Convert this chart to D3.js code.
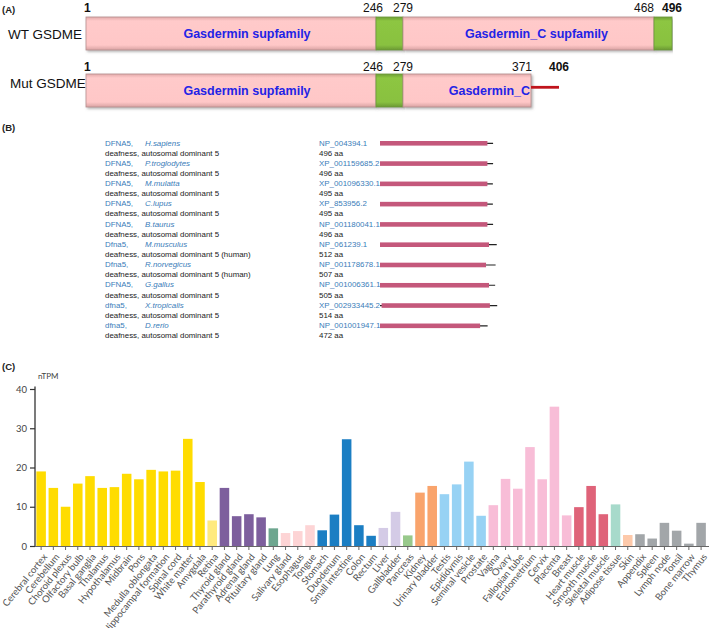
<!DOCTYPE html>
<html>
<head>
<meta charset="utf-8">
<script src="https://cdn.jsdelivr.net/npm/d3@7/dist/d3.min.js"></script>
<style>
  html, body { margin: 0; padding: 0; background: #fff; }
  svg { display: block; }
</style>
</head>
<body>
<svg id="fig" width="709" height="628"></svg>
<script>
// ---------------- DATA ----------------
// Panel A: GSDME domain schematic (amino-acid positions)
const wtSegStart = [1, 246, 279, 468];
const wtSegEnd   = [246, 279, 468, 496];
const wtSegType  = ["domain", "linker", "domain", "linker"];
const wtSegLabel = ["Gasdermin supfamily", "", "Gasdermin_C supfamily", ""];
const wtTicks    = [1, 246, 279, 468, 496];

const mutSegStart = [1, 246, 279];
const mutSegEnd   = [246, 279, 371];
const mutSegType  = ["domain", "linker", "domain"];
const mutSegLabel = ["Gasdermin supfamily", "", "Gasdermin_C"];
const mutFrameshift = [371, 406];
const mutTicks    = [1, 246, 279, 371, 406];
const boldTicks   = [1, 496, 406];

// Panel B: HomoloGene entries
const geneSymbols = ["DFNA5", "DFNA5", "DFNA5", "DFNA5", "DFNA5", "Dfna5", "Dfna5", "DFNA5", "dfna5", "dfna5"];
const species     = ["H.sapiens", "P.troglodytes", "M.mulatta", "C.lupus", "B.taurus", "M.musculus", "R.norvegicus", "G.gallus", "X.tropicalis", "D.rerio"];
const descriptions = ["deafness, autosomal dominant 5", "deafness, autosomal dominant 5", "deafness, autosomal dominant 5",
  "deafness, autosomal dominant 5", "deafness, autosomal dominant 5", "deafness, autosomal dominant 5 (human)",
  "deafness, autosomal dominant 5 (human)", "deafness, autosomal dominant 5", "deafness, autosomal dominant 5",
  "deafness, autosomal dominant 5"];
const accessions  = ["NP_004394.1", "XP_001159685.2", "XP_001096330.1", "XP_853956.2", "NP_001180041.1",
  "NP_061239.1", "NP_001178678.1", "NP_001006361.1", "XP_002933445.2", "NP_001001947.1"];
const proteinLength = [496, 496, 495, 495, 496, 512, 507, 505, 514, 472];
const domainStart = [0, 0, 0, 0, 0, 0, 0, 0, 7, 0];
const domainEnd   = [471, 471, 471, 471, 471, 478, 465, 478, 482, 439];

// Panel C: tissue RNA expression (nTPM)
const tissues = ["Cerebral cortex", "Cerebellum", "Choroid plexus", "Olfactory bulb", "Basal ganglia", "Thalamus",
  "Hypothalamus", "Midbrain", "Pons", "Medulla oblongata", "Hippocampal formation", "Spinal cord", "White matter",
  "Amygdala", "Retina", "Thyroid gland", "Parathyroid gland", "Adrenal gland", "Pituitary gland", "Lung",
  "Salivary gland", "Esophagus", "Tongue", "Stomach", "Duodenum", "Small intestine", "Colon", "Rectum", "Liver",
  "Gallbladder", "Pancreas", "Kidney", "Urinary bladder", "Testis", "Epididymis", "Seminal vesicle", "Prostate",
  "Vagina", "Ovary", "Fallopian tube", "Endometrium", "Cervix", "Placenta", "Breast", "Heart muscle",
  "Smooth muscle", "Skeletal muscle", "Adipose tissue", "Skin", "Appendix", "Spleen", "Lymph node", "Tonsil",
  "Bone marrow", "Thymus"];
const nTPM = [19.0, 14.8, 10.0, 15.9, 17.8, 14.8, 15.0, 18.4, 17.0, 19.4, 19.0, 19.2, 27.3, 16.3, 6.5,
  14.8, 7.6, 8.1, 7.3, 4.5, 3.3, 3.8, 5.3, 4.0, 8.0, 27.2, 5.3, 2.6, 4.6, 8.7, 2.7, 13.6, 15.3,
  13.2, 15.7, 21.5, 7.7, 10.4, 17.1, 14.6, 25.2, 17.0, 35.5, 7.8, 9.9, 15.3, 8.1, 10.6, 2.8, 3.0,
  1.9, 5.9, 3.9, 0.6, 5.9];
const tissueGroup = ["brain", "brain", "brain", "brain", "brain", "brain", "brain", "brain", "brain", "brain",
  "brain", "brain", "brain", "brain", "eye", "endocrine", "endocrine", "endocrine", "endocrine", "lung",
  "oral", "oral", "oral", "gi", "gi", "gi", "gi", "gi", "liver", "liver", "pancreas", "kidney", "kidney",
  "male", "male", "male", "male", "female", "female", "female", "female", "female", "female", "female",
  "muscle", "muscle", "muscle", "adipose", "skin", "immune", "immune", "immune", "immune", "immune", "immune"];
const yTicks = [0, 10, 20, 30, 40];

// Styles (kept apart from the data)
const groupNames  = ["brain", "eye", "endocrine", "lung", "oral", "gi", "liver", "pancreas", "kidney", "male", "female", "muscle", "adipose", "skin", "immune"];
const groupColors = ["#FFDC00", "#FFEA7E", "#7D5F9D", "#6DA68F", "#FDD4D5", "#1B7EC3", "#D4CBE6", "#98C98B", "#F9A46C", "#97D2F4", "#F8BDD7", "#DF6379", "#A7DACB", "#FDC9AA", "#A2A6A9"];

// ---------------- DRAW ----------------
const svg = d3.select("#fig");
const AR = "Arial, 'Liberation Sans', sans-serif";

const defs = svg.append("defs");
function vgrad(id, stops) {
  const g = defs.append("linearGradient").attr("id", id).attr("x1", 0).attr("y1", 0).attr("x2", 0).attr("y2", 1);
  stops.forEach(s => g.append("stop").attr("offset", s[0]).attr("stop-color", s[1]));
}
vgrad("pinkG", [[0, "#E3AAAA"], [0.12, "#FFCACA"], [0.85, "#FFC7C7"], [1, "#D9A2A2"]]);
vgrad("greenG", [[0, "#6E9E36"], [0.12, "#8DC642"], [0.85, "#89C140"], [1, "#6A9833"]]);
const sh = defs.append("filter").attr("id", "shadow").attr("x", "-5%").attr("y", "-20%").attr("width", "110%").attr("height", "150%");
sh.append("feDropShadow").attr("dx", 1.5).attr("dy", 1.5).attr("stdDeviation", 1.2).attr("flood-color", "#777").attr("flood-opacity", 0.55);

// Panel labels
[["(A)", 13], ["(B)", 131], ["(C)", 370]].forEach(p => {
  svg.append("text").attr("x", 2).attr("y", p[1]).text(p[0])
    .attr("font-family", AR).attr("font-weight", "bold").attr("font-size", 9.5).attr("fill", "#222");
});

// ---- Panel A ----
const xA = d3.scaleLinear().domain([1, 246, 279, 371, 406, 468, 496]).range([86, 376, 403, 531, 559, 654, 672]);
const tickAnchor = { 1: ["start", -2], 246: ["end", 7], 279: ["middle", 0], 371: ["end", 1], 406: ["middle", 0], 468: ["end", 0], 496: ["middle", 0] };

function drawProtein(name, top, h, segS, segE, segT, segL, ticks, nameBase, tickBase) {
  const g = svg.append("g");
  g.append("text").attr("x", name === "WT GSDME" ? 8 : 10).attr("y", nameBase).text(name)
    .attr("font-family", AR).attr("font-size", 13.5).attr("fill", "#111");
  const segs = segS.map((s, i) => ({ s, e: segE[i], t: segT[i], l: segL[i] }));
  g.selectAll("rect").data(segs).join("rect")
    .attr("x", d => xA(d.s)).attr("y", top)
    .attr("width", d => xA(d.e) - xA(d.s)).attr("height", h)
    .attr("fill", d => d.t === "domain" ? "url(#pinkG)" : "url(#greenG)")
    .attr("stroke", d => d.t === "domain" ? "#B58E8E" : "#6C9A3A").attr("stroke-width", 0.8)
    .attr("filter", "url(#shadow)");
  g.selectAll("text.dl").data(segs.filter(d => d.l)).join("text").attr("class", "dl")
    .attr("x", d => d.l === "Gasdermin_C" ? xA(d.e) - 1 : (xA(d.s) + xA(d.e)) / 2 + (d.s === 1 ? 16 : 8))
    .attr("text-anchor", d => d.l === "Gasdermin_C" ? "end" : "middle")
    .attr("y", top + h / 2 + 4.3).text(d => d.l)
    .attr("font-family", AR).attr("font-weight", "bold").attr("font-size", 12.5).attr("fill", "#2323E6");
  g.selectAll("text.tk").data(ticks).join("text").attr("class", "tk")
    .attr("x", d => xA(d) + tickAnchor[d][1]).attr("y", tickBase)
    .attr("text-anchor", d => tickAnchor[d][0]).text(d => d)
    .attr("font-family", AR).attr("font-size", 12).attr("fill", "#111")
    .attr("font-weight", d => boldTicks.includes(d) ? "bold" : "normal");
  return g;
}
drawProtein("WT GSDME", 17, 33, wtSegStart, wtSegEnd, wtSegType, wtSegLabel, wtTicks, 39, 12);
const gm = drawProtein("Mut GSDME", 74, 33, mutSegStart, mutSegEnd, mutSegType, mutSegLabel, mutTicks, 88, 71);
gm.append("line").attr("x1", xA(mutFrameshift[0])).attr("x2", xA(mutFrameshift[1]))
  .attr("y1", 87.3).attr("y2", 87.3).attr("stroke", "#C0141C").attr("stroke-width", 2.8);

// ---- Panel B ----
const xB = d3.scaleLinear().domain([0, 514]).range([380, 497.2]);
const rowStep = 20.28, firstBase = 145.5;
const gB = svg.append("g").attr("font-family", AR).attr("font-size", 7.9);
const rows = species.map((sp, i) => ({ i, sp, sym: geneSymbols[i], desc: descriptions[i], acc: accessions[i], len: proteinLength[i], ds: domainStart[i], de: domainEnd[i] }));
const row = gB.selectAll("g.row").data(rows).join("g").attr("class", "row")
  .attr("transform", d => `translate(0,${firstBase + d.i * rowStep})`);
const nameT = row.append("text").attr("x", 105).attr("y", 0).attr("fill", "#3A7DB9");
nameT.append("tspan").text(d => d.sym + ",");
nameT.append("tspan").attr("x", 145).attr("font-style", "italic").text(d => d.sp);
row.append("text").attr("x", 105).attr("y", rowStep / 2).attr("fill", "#222").text(d => d.desc);
row.append("text").attr("x", 319).attr("y", 0).attr("fill", "#3A7DB9").text(d => d.acc);
row.append("text").attr("x", 319).attr("y", rowStep / 2).attr("fill", "#222").text(d => d.len + " aa");
row.append("line").attr("x1", xB(0)).attr("x2", d => xB(d.len)).attr("y1", -2.2).attr("y2", -2.2)
  .attr("stroke", "#222").attr("stroke-width", 1.2);
row.append("rect").attr("x", d => xB(d.ds)).attr("width", d => xB(d.de) - xB(d.ds))
  .attr("y", -4.5).attr("height", 4.6).attr("fill", "#C4587B");

// ---- Panel C ----
const LA = "Lato, 'Open Sans', sans-serif";
const x = d3.scaleBand().domain(tissues).range([35, 707.2]).paddingInner(0.22).paddingOuter(0.11);
const y = d3.scaleLinear().domain([0, 40]).range([546, 389]);
const color = d3.scaleOrdinal(groupNames, groupColors);
const gC = svg.append("g");

gC.selectAll("rect").data(tissues).join("rect")
  .attr("x", d => x(d)).attr("width", x.bandwidth())
  .attr("y", (d, i) => y(nTPM[i])).attr("height", (d, i) => y(0) - y(nTPM[i]))
  .attr("fill", (d, i) => color(tissueGroup[i]));

// y axis
const yAx = gC.append("g").attr("transform", "translate(35,0)")
  .call(d3.axisLeft(y).tickValues(yTicks).tickSize(5).tickPadding(3));
yAx.select(".domain").attr("stroke", "#333").attr("stroke-width", 1.3).attr("d", "M0,386.5V546.5");
yAx.selectAll(".tick line").attr("stroke", "#333").attr("stroke-width", 1.2);
yAx.selectAll(".tick text").attr("font-family", LA).attr("font-size", 9.5).attr("fill", "#444");

// x axis
const xAx = gC.append("g").attr("transform", "translate(0,546)")
  .call(d3.axisBottom(x).tickSize(4).tickSizeOuter(0));
xAx.select(".domain").attr("stroke", "#666").attr("d", "M35,0.5H709");
xAx.selectAll(".tick line").attr("stroke", "#666");
xAx.selectAll(".tick text")
  .attr("font-family", LA).attr("font-size", 9.6).attr("fill", "#555")
  .attr("text-anchor", "end").attr("y", 0).attr("dy", "0.35em")
  .attr("transform", "translate(4,9) rotate(-51)");

gC.append("text").attr("x", 38).attr("y", 379).text("nTPM")
  .attr("font-family", LA).attr("font-size", 8).attr("fill", "#444");
</script>
</body>
</html>
